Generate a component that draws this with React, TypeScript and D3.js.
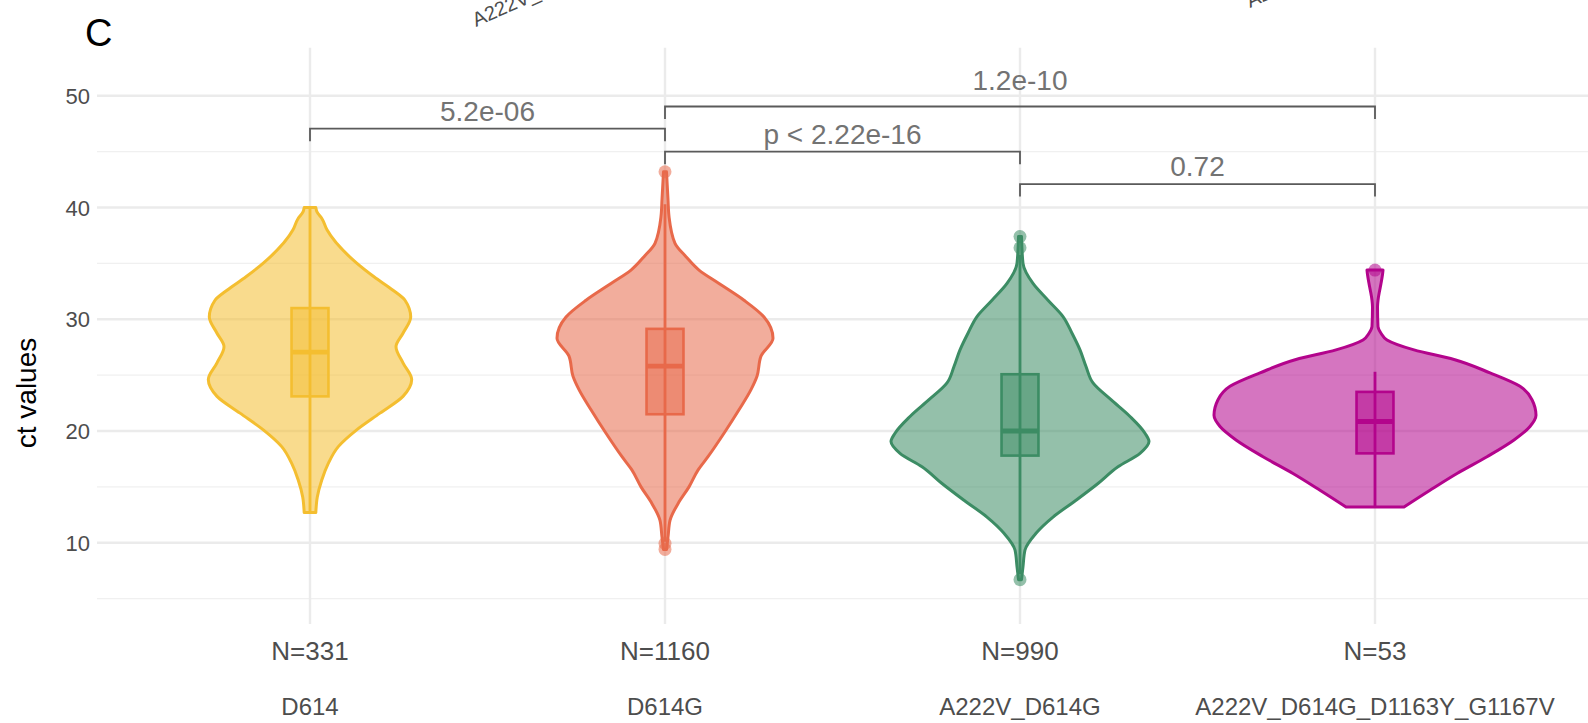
import React from "react";
import * as d3 from "d3";

const categories = ["D614", "D614G", "A222V_D614G", "A222V_D614G_D1163Y_G1167V"];
const countLabels = ["N=331", "N=1160", "N=990", "N=53"];
const colors = ["#F4BE30", "#E8694A", "#3C8C64", "#B3048C"];
const majorTicks = [10, 20, 30, 40, 50];
const minorTicks = [5, 15, 25, 35, 45];

// violin outlines: [ct value, density]
const violinD614: [number, number][] = [
  [40, 5.8], [39.6, 7], [39, 12], [38, 17], [35, 47], [33.8, 64], [32.6, 83], [31.7, 95],
  [30.2, 100.7], [28.75, 93], [27.55, 86], [26.1, 93], [24.6, 101.7], [23.1, 93],
  [21.6, 70], [20.1, 46.7], [18.6, 28.3], [17.1, 18.3], [15.6, 11.7], [14.1, 7.3], [12.7, 5.8],
];
const violinD614G: [number, number][] = [
  [43.2, 1.5], [40.7, 3], [39.2, 4], [36.8, 10], [35.6, 21], [34.4, 34], [33.2, 54],
  [31.7, 79], [30.2, 99], [28.3, 108], [26.7, 96], [24.9, 92], [23.7, 86], [21.9, 74],
  [19.8, 59], [17.7, 43], [16.5, 33], [15.0, 24], [13.5, 13], [12.0, 5], [10.5, 3], [9.4, 1.5],
];
const violinA222V: [number, number][] = [
  [37.4, 1.5], [35.0, 3], [33.2, 13], [31.7, 28], [30.24, 43], [28.75, 52], [27.26, 60],
  [25.77, 66], [24.3, 73], [22.8, 91], [21.3, 110], [19.8, 125], [19.05, 129], [18.0, 120],
  [16.8, 98], [15.3, 78], [13.8, 56], [12.3, 33], [10.85, 16], [9.35, 5], [7.86, 3], [6.7, 1.5],
];
const violinQuad: [number, number][] = [
  [34.4, 8], [34.0, 7.5], [33.2, 6], [32.6, 4.7], [31.7, 3], [31.1, 2.5], [29.35, 3],
  [28.75, 6], [28.15, 12], [27.26, 39], [26.4, 79], [25.2, 115], [24.0, 145], [22.8, 157],
  [21.4, 161], [20.4, 155], [19.2, 139], [17.7, 112], [16.2, 82], [14.7, 55], [13.2, 29],
];
const violins = [violinD614, violinD614G, violinA222V, violinQuad];

// box plot statistics
const q1s = [23.1, 21.5, 17.8, 18.0];
const medians = [27.05, 25.8, 20.0, 20.85];
const q3s = [31.0, 29.14, 25.08, 23.5];
const whiskerLow = [12.7, 10.1, 7.2, 13.2];
const whiskerHigh = [40.0, 40.3, 35.8, 25.3];
const outliers = [[], [43.2, 9.95, 9.4], [37.4, 36.4, 6.7], [34.4]];

// comparison brackets
const bracketFrom = [0, 1, 1, 2];
const bracketTo = [1, 3, 2, 3];
const bracketY = [47.05, 49.04, 45.0, 42.1];
const bracketLabelY = [47.7, 50.48, 45.67, 42.78];
const bracketLabels = ["5.2e-06", "1.2e-10", "p < 2.22e-16", "0.72"];

const W = 1588;
const H = 723;
const FONT = "'Liberation Sans', Arial, Helvetica, sans-serif";

export default function App() {
  const panel = { left: 97, right: 1588, top: 47.7, bottom: 624 };
  const x = d3.scalePoint<string>().domain(categories).range([panel.left, panel.right]).padding(0.6);
  const y = d3.scaleLinear().domain([2.73, 54.3]).range([panel.bottom, panel.top]);
  const maxDensity = d3.max(violins.flat(), (d) => d[1]) as number;
  const w = d3.scaleLinear().domain([0, maxDensity]).range([0, 161]);
  const step = x.step();
  const boxHalf = step * 0.052;
  const tick = 12.5;

  return (
    <svg width={W} height={H} style={{ position: "absolute", left: 0, top: 0, background: "#fff" }} fontFamily={FONT}>
      <style>{`body{margin:0}`}</style>
      <rect x={0} y={0} width={W} height={H} fill="#ffffff" />
      {/* grid */}
      {minorTicks.map((t) => (
        <line key={"mi" + t} x1={panel.left} x2={panel.right} y1={y(t)} y2={y(t)} stroke="#f0f0f0" strokeWidth={1.2} />
      ))}
      {majorTicks.map((t) => (
        <line key={"ma" + t} x1={panel.left} x2={panel.right} y1={y(t)} y2={y(t)} stroke="#ebebeb" strokeWidth={2.4} />
      ))}
      {categories.map((c) => (
        <line key={"v" + c} x1={x(c)} x2={x(c)} y1={panel.top} y2={panel.bottom} stroke="#ebebeb" strokeWidth={2.4} />
      ))}

      {/* violins and boxes */}
      {categories.map((c, i) => {
        const cx = x(c) as number;
        const col = colors[i];
        const area = d3
          .area<[number, number]>()
          .y((d) => y(d[0]))
          .x0((d) => cx - w(d[1]))
          .x1((d) => cx + w(d[1]))
          .curve(d3.curveMonotoneY);
        return (
          <g key={"g" + c}>
            <path d={area(violins[i]) as string} fill={col} fillOpacity={0.55} stroke={col} strokeWidth={3} strokeLinejoin="round" />
            <line x1={cx} x2={cx} y1={y(whiskerHigh[i])} y2={y(whiskerLow[i])} stroke={col} strokeWidth={2.8} />
            <rect x={cx - boxHalf} width={boxHalf * 2} y={y(q3s[i])} height={y(q1s[i]) - y(q3s[i])} fill={col} fillOpacity={0.5} stroke={col} strokeWidth={2.6} />
            <line x1={cx - boxHalf} x2={cx + boxHalf} y1={y(medians[i])} y2={y(medians[i])} stroke={col} strokeWidth={4.8} />
            {outliers[i].map((o, k) => (
              <circle key={k} cx={cx} cy={y(o)} r={6.5} fill={col} fillOpacity={0.55} />
            ))}
          </g>
        );
      })}

      {/* brackets */}
      {bracketLabels.map((lab, i) => {
        const x1 = x(categories[bracketFrom[i]]) as number;
        const x2 = x(categories[bracketTo[i]]) as number;
        const yy = y(bracketY[i]);
        return (
          <g key={"b" + i}>
            <path d={`M${x1},${yy + tick}V${yy}H${x2}V${yy + tick}`} fill="none" stroke="#5a5a5a" strokeWidth={1.8} />
            <text x={(x1 + x2) / 2} y={y(bracketLabelY[i])} textAnchor="middle" fontSize={28} fill="#737373">
              {lab}
            </text>
          </g>
        );
      })}

      {/* y axis */}
      {majorTicks.map((t) => (
        <text key={"yt" + t} x={90} y={y(t) + 8} textAnchor="end" fontSize={22} fill="#4d4d4d">
          {t}
        </text>
      ))}
      <text transform="translate(36,393) rotate(-90)" textAnchor="middle" fontSize={28} fill="#000">
        ct values
      </text>

      {/* x labels */}
      {categories.map((c, i) => (
        <g key={"xl" + c}>
          <text x={x(c)} y={660} textAnchor="middle" fontSize={26} fill="#4d4d4d">
            {countLabels[i]}
          </text>
          <text x={x(c)} y={715} textAnchor="middle" fontSize={24} fill="#4d4d4d">
            {c}
          </text>
        </g>
      ))}

      {/* panel tag */}
      <text x={85} y={45.7} fontSize={38} fill="#000">C</text>

      {/* cut-off labels of the panel above */}
      <text transform="translate(476,27) rotate(-24)" fontSize={20} fill="#4d4d4d">{categories[2]}</text>
      <text transform="translate(1250,8) rotate(-24)" fontSize={20} fill="#4d4d4d">{categories[3]}</text>
    </svg>
  );
}
